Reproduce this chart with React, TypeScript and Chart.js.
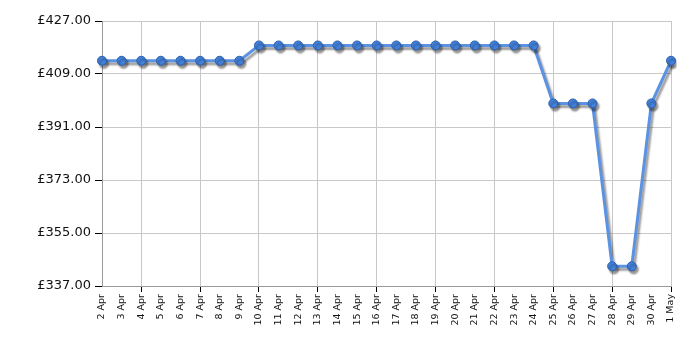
import React, { useEffect, useRef } from "react";
import { Chart, registerables } from "chart.js";

Chart.register(...registerables);

const labels = [
  "2 Apr", "3 Apr", "4 Apr", "5 Apr", "6 Apr", "7 Apr", "8 Apr", "9 Apr", "10 Apr", "11 Apr",
  "12 Apr", "13 Apr", "14 Apr", "15 Apr", "16 Apr", "17 Apr", "18 Apr", "19 Apr", "20 Apr", "21 Apr",
  "22 Apr", "23 Apr", "24 Apr", "25 Apr", "26 Apr", "27 Apr", "28 Apr", "29 Apr", "30 Apr", "1 May",
];

const prices = [
  413.5, 413.5, 413.5, 413.5, 413.5, 413.5, 413.5, 413.5, 418.7, 418.7,
  418.7, 418.7, 418.7, 418.7, 418.7, 418.7, 418.7, 418.7, 418.7, 418.7,
  418.7, 418.7, 418.7, 399.0, 399.0, 399.0, 343.7, 343.7, 399.0, 413.5,
];

const yMin = 337;
const yMax = 427;
const yStep = 18;

const shadowPlugin = {
  id: "dropShadow",
  beforeDatasetsDraw(chart: any) {
    const ctx = chart.ctx;
    ctx.save();
    ctx.shadowColor = "rgba(0,0,0,0.4)";
    ctx.shadowBlur = 2;
    ctx.shadowOffsetX = 2;
    ctx.shadowOffsetY = 3;
  },
  afterDatasetsDraw(chart: any) {
    chart.ctx.restore();
  },
};

export default function App() {
  const ref = useRef<HTMLCanvasElement | null>(null);
  useEffect(() => {
    if (!ref.current) return;
    const chart = new Chart(ref.current, {
      type: "line",
      data: {
        labels,
        datasets: [
          {
            data: prices,
            borderColor: "#5b93e2",
            borderWidth: 3,
            pointBackgroundColor: "#4380d8",
            pointBorderColor: "#2d5fae",
            pointBorderWidth: 1,
            pointRadius: 4.5,
            tension: 0,
            fill: false,
          },
        ],
      },
      options: {
        animation: false,
        responsive: false,
        maintainAspectRatio: false,
        layout: { padding: { left: 0, right: 29, top: 21, bottom: 0 } },
        plugins: { legend: { display: false }, tooltip: { enabled: false } },
        scales: {
          x: {
            offset: false,
            grid: {
              color: (c: any) => (c.index % 3 === 2 ? "#c8c8c8" : "rgba(0,0,0,0)"),
              tickColor: (c: any) => (c.index % 3 === 2 || c.index === 29 ? "#000" : "rgba(0,0,0,0)"),
              tickLength: 6,
              lineWidth: 1,
            },
            border: { color: "#999", width: 1 },
            ticks: {
              autoSkip: false,
              maxRotation: 90,
              minRotation: 90,
              color: "#111",
              font: { family: "DejaVu Sans", size: 9.5 },
              padding: 2,
            },
            afterFit: (s: any) => {
              s.height = 64;
            },
          },
          y: {
            min: yMin,
            max: yMax,
            grid: { color: "#c8c8c8", tickColor: "#000", tickLength: 7 },
            border: { color: "#999", width: 1 },
            ticks: {
              stepSize: yStep,
              color: "#111",
              font: { family: "DejaVu Sans", size: 13 },
              padding: 4,
              callback: (v: any) => "£" + Number(v).toFixed(2),
            },
            afterFit: (s: any) => {
              s.width = 102;
            },
          },
        },
      },
      plugins: [shadowPlugin],
    });
    return () => chart.destroy();
  }, []);
  return (
    <div style={{ position: "fixed", left: 0, top: 0, width: 700, height: 350, background: "#fff" }}>
      <canvas ref={ref} width={700} height={350} style={{ width: 700, height: 350 }} />
    </div>
  );
}
